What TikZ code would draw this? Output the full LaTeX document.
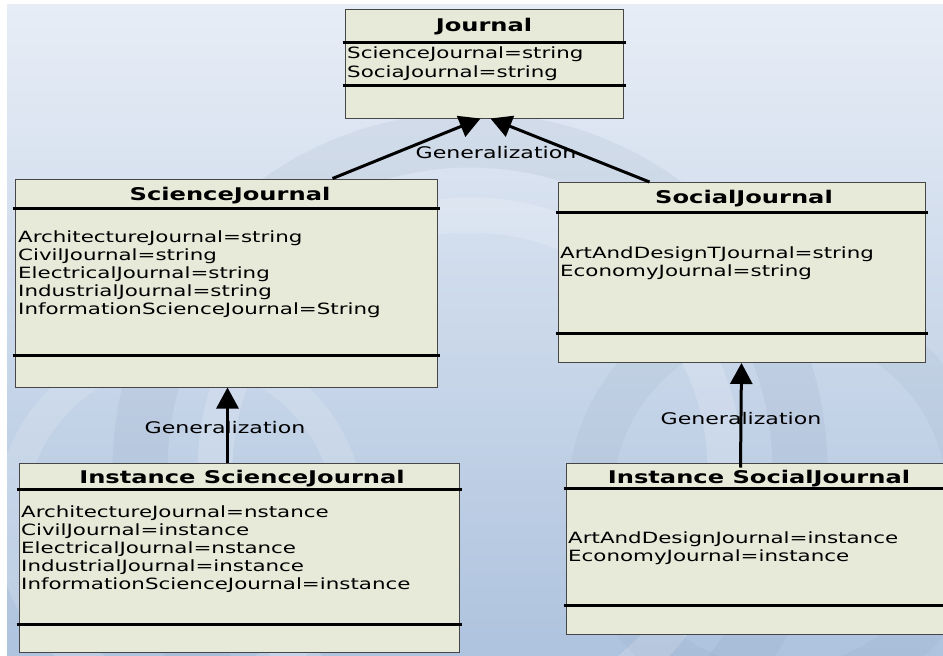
\documentclass[tikz,border=0pt]{standalone}
\usepackage{fontspec}
\newfontfamily\umlfont[FakeStretch=1.38]{DejaVu Sans}
\usetikzlibrary{arrows.meta,calc}
\definecolor{bgtop}{RGB}{231,237,246}
\definecolor{bgbot}{RGB}{174,195,222}
\definecolor{boxfill}{RGB}{231,233,217}
\definecolor{boxline}{RGB}{70,70,70}
\definecolor{markdark}{RGB}{120,140,165}

\begin{document}
\begin{tikzpicture}[x=1pt,y=-1pt,
  classbox/.style={draw=boxline, line width=1pt, fill=boxfill, inner sep=0pt},
  divider/.style={line width=3pt, black},
  classtitle/.style={font=\umlfont\bfseries\fontsize{17.5}{20}\selectfont, anchor=base, inner sep=0pt},
  attrs/.style={font=\umlfont\fontsize{15.5}{18}\selectfont, anchor=north west, align=left, inner sep=0pt},
  genlabel/.style={font=\umlfont\fontsize{16}{18}\selectfont, inner sep=0pt},
  genarrow/.style={line width=3pt, -{Triangle[length=21pt,width=22pt]}}
]
\useasboundingbox (0,0) rectangle (943,656);
\clip (0,0) rectangle (943,656);

% page background with soft watermark bands
\fill[white] (0,0) rectangle (943,656);
\shade[top color=bgtop, bottom color=bgbot] (7,4) rectangle (943,656);
\begin{scope}
  \clip (7,4) rectangle (943,656);
  \draw[markdark, opacity=0.10, line width=55pt] (470,470) circle (330);
  \draw[white, opacity=0.18, line width=35pt] (470,470) circle (255);
  \draw[markdark, opacity=0.08, line width=45pt] (780,500) circle (190);
  \draw[white, opacity=0.15, line width=30pt] (180,520) circle (170);
\end{scope}

% class boxes
\node[classbox, minimum width=278, minimum height=109] (journal) at (484,63.5) {};
\node[classbox, minimum width=422, minimum height=208] (sj) at (226,283) {};
\node[classbox, minimum width=367, minimum height=180] (soc) at (741.5,272.5) {};
\node[classbox, minimum width=440, minimum height=189] (isj) at (239.5,557.5) {};
\node[classbox, minimum width=386, minimum height=171] (isoc) at (759,548.5) {};

% compartment dividers
\draw[divider] ($(journal.north west)+(-2,34)$) -- ($(journal.north east)+(2,34)$);
\draw[divider] ($(journal.north west)+(-2,77)$) -- ($(journal.north east)+(2,77)$);
\draw[divider] ($(sj.north west)+(-2,30)$) -- ($(sj.north east)+(2,30)$);
\draw[divider] ($(sj.north west)+(-2,177)$) -- ($(sj.north east)+(2,177)$);
\draw[divider] ($(soc.north west)+(-2,30)$) -- ($(soc.north east)+(2,30)$);
\draw[divider] ($(soc.north west)+(-2,151)$) -- ($(soc.north east)+(2,151)$);
\draw[divider] ($(isj.north west)+(-2,27)$) -- ($(isj.north east)+(2,27)$);
\draw[divider] ($(isj.north west)+(-2,162)$) -- ($(isj.north east)+(2,162)$);
\draw[divider] ($(isoc.north west)+(-2,26)$) -- ($(isoc.north east)+(2,26)$);
\draw[divider] ($(isoc.north west)+(-2,143)$) -- ($(isoc.north east)+(2,143)$);

% class names
\node[classtitle] (journalT) at (484,31) {Journal};
\node[classtitle] (sjT) at (230,200) {ScienceJournal};
\node[classtitle] (socT) at (744,203) {SocialJournal};
\node[classtitle] (isjT) at (242,483) {Instance ScienceJournal};
\node[classtitle] (isocT) at (759,483) {Instance SocialJournal};

% attributes
\node[attrs, font=\umlfont\fontsize{15.5}{19}\selectfont] (journalA) at (347,46.5)
  {ScienceJournal=string\\SociaJournal=string};
\node[attrs] (sjA) at (18,230.5)
  {ArchitectureJournal=string\\CivilJournal=string\\ElectricalJournal=string\\IndustrialJournal=string\\InformationScienceJournal=String};
\node[attrs] (socA) at (560,246.5)
  {ArtAndDesignTJournal=string\\EconomyJournal=string};
\node[attrs] (isjA) at (21,505.5)
  {ArchitectureJournal=nstance\\CivilJournal=instance\\ElectricalJournal=nstance\\IndustrialJournal=instance\\InformationScienceJournal=instance};
\node[attrs] (isocA) at (568,531.5)
  {ArtAndDesignJournal=instance\\EconomyJournal=instance};

% relation labels
\node[genlabel] (gtop) at (496,153) {Generalization};
\node[genlabel] (gleft) at (225,428) {Generalization};
\node[genlabel] (gright) at (741,419) {Generalization};

% generalization arrows
\draw[genarrow] ($(sj.north west)+(318,0)$) -- ($(journal.south west)+(136,0)$);
\draw[genarrow] ($(soc.north west)+(92,0)$) -- ($(journal.south west)+(146,0)$);
\draw[genarrow] ($(isj.north west)+(208.5,0)$) -- ($(sj.south west)+(213,0)$);
\draw[genarrow] ($(isoc.north west)+(175,5)$) -- (soc.south);
\end{tikzpicture}
\end{document}
